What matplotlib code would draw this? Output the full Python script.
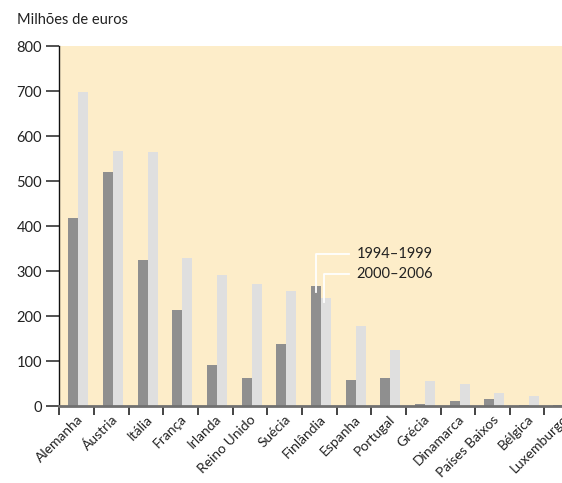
import matplotlib
matplotlib.use("Agg")
import matplotlib.pyplot as plt
import numpy as np

plt.rcParams['font.family'] = ['Lato', 'DejaVu Sans']

categories = ["Alemanha", "Áustria", "Itália", "França", "Irlanda", "Reino Unido",
              "Suécia", "Finlândia", "Espanha", "Portugal", "Grécia", "Dinamarca",
              "Países Baixos", "Bélgica", "Luxemburgo"]
p1994_1999 = [418, 520, 324, 213, 91, 62, 138, 267, 58, 62, 4, 11, 16, 2, 3]
p2000_2006 = [698, 567, 564, 329, 291, 271, 256, 240, 178, 124, 56, 49, 29, 22, 0]
series_labels = ["1994–1999", "2000–2006"]
yticks = [0, 100, 200, 300, 400, 500, 600, 700, 800]

dark = "#8F8F8F"
light = "#DFDFDF"
bg = "#FDEDC9"
fs = 10.5

fig = plt.figure(figsize=(5.62, 4.83), dpi=100)
ax = fig.add_axes([0.1055, 0.1594, 0.925, 0.7453])
ax.set_facecolor(bg)

x = np.arange(len(categories))
w = 0.29
ax.bar(x - 0.24, p1994_1999, width=w, align='edge', color=dark, zorder=2)
ax.bar(x + 0.05, p2000_2006, width=w, align='edge', color=light, zorder=2)

ax.set_xlim(-0.5, len(categories) - 0.5)
ax.set_ylim(0, 800)
ax.set_yticks(yticks)
ax.set_yticklabels([str(v) for v in yticks], fontsize=fs, color="#222222")
ax.tick_params(axis='y', length=9.5, width=1.2, color="#333333", pad=3)

ax.set_xticks(x)
ax.set_xticklabels(categories, rotation=45, ha='right', va='top',
                   rotation_mode='anchor', fontsize=10, color="#222222")
ax.tick_params(axis='x', which='major', length=0, pad=5)
ax.set_xticks(np.arange(-0.5, len(categories), 1.0), minor=True)
ax.tick_params(axis='x', which='minor', length=6.5, width=1.2, color="#222222")

for s in ['top', 'right']:
    ax.spines[s].set_visible(False)
ax.spines['left'].set_color("#111111")
ax.spines['left'].set_linewidth(1.0)
ax.spines['bottom'].set_color("#707070")
ax.spines['bottom'].set_linewidth(2.0)
ax.spines['bottom'].set_zorder(3)

# legend-like callouts attached to Finlândia bars
i = categories.index("Finlândia")
x1 = i - 0.24 + w / 2 - 0.005
x2 = i + 0.05 + w / 2 - 0.07
xe = i + 0.86
xt = i + 1.08
ya = p1994_1999[i] + 70
yb = p2000_2006[i] + 53
ax.plot([x1, x1, xe], [p1994_1999[i] - 13, ya, ya], color="white", lw=1.3, zorder=4)
ax.plot([x2, x2, xe], [p2000_2006[i] - 9, yb, yb], color="white", lw=1.3, zorder=4)
ax.text(xt, ya, series_labels[0], fontsize=fs, va='center', ha='left', color="#222222")
ax.text(xt, yb, series_labels[1], fontsize=fs, va='center', ha='left', color="#222222")

fig.text(17 / 562, 1 - 20 / 483, "Milhões de euros", fontsize=fs, va='center',
         ha='left', color="#222222")

fig.savefig("out.png", dpi=100)
